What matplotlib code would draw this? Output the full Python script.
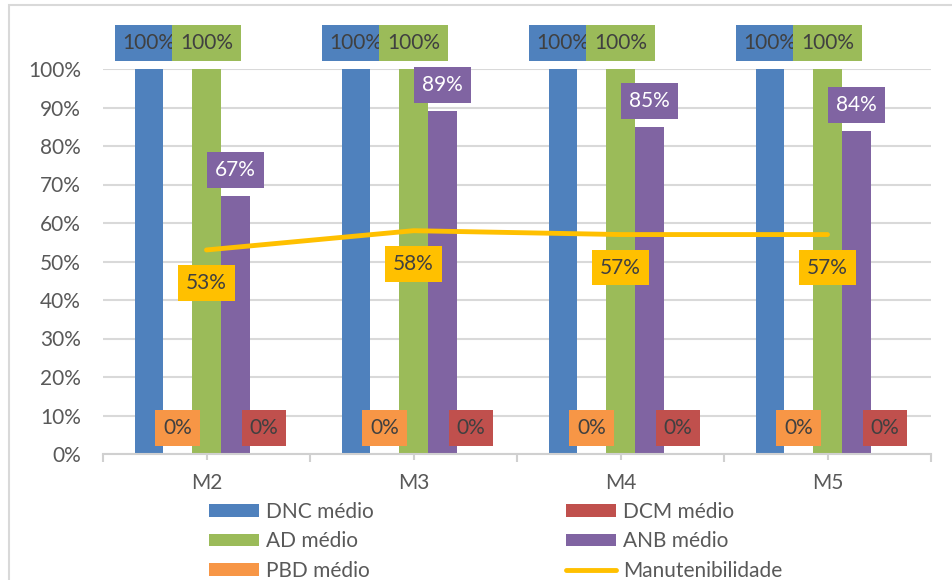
import matplotlib
matplotlib.use("Agg")
import matplotlib.pyplot as plt
from matplotlib.patches import Rectangle

plt.rcParams["font.family"] = ["Lato", "DejaVu Sans"]

categories = ["M2", "M3", "M4", "M5"]
dnc = [100, 100, 100, 100]
pbd = [0, 0, 0, 0]
ad = [100, 100, 100, 100]
anb = [67, 89, 85, 84]
dcm = [0, 0, 0, 0]
manut = [53, 58, 57, 57]

# bars in the order they sit inside each group
series = [
    ("DNC médio", dnc, "#4F81BD", "#404040"),
    ("PBD médio", pbd, "#F79646", "#404040"),
    ("AD médio", ad, "#9BBB59", "#404040"),
    ("ANB médio", anb, "#8064A2", "white"),
    ("DCM médio", dcm, "#C0504D", "#404040"),
]

fs = 15
grey = "#595959"
bw = 0.139

fig = plt.figure(figsize=(9.52, 5.8), dpi=100)
ax = fig.add_axes([103 / 952, 1 - 454 / 580, 828 / 952, 385 / 580])

x = list(range(len(categories)))
handles = {}
for k, (name, vals, col, tcol) in enumerate(series):
    off = (k - 2) * bw
    xs = [i + off for i in x]
    b = ax.bar(xs, vals, width=bw, color=col, zorder=2, label=name)
    handles[name] = b
    for xi, v in zip(xs, vals):
        ax.annotate(f"{v}%", (xi, v), xytext=(0, 26), textcoords="offset pixels",
                    ha="center", va="center", fontsize=fs, color=tcol, zorder=5,
                    annotation_clip=False,
                    bbox=dict(boxstyle="square,pad=0.38", fc=col, ec="none"))

ln, = ax.plot(x, manut, color="#FFC000", lw=3.5, solid_capstyle="round", zorder=3,
              label="Manutenibilidade")
for xi, v in zip(x, manut):
    ax.annotate(f"{v}%", (xi, v), xytext=(0, -33), textcoords="offset pixels",
                ha="center", va="center", fontsize=fs, color="#404040", zorder=6,
                annotation_clip=False,
                bbox=dict(boxstyle="square,pad=0.38", fc="#FFC000", ec="none"))

ax.set_xlim(-0.5, len(categories) - 0.5)
ax.set_ylim(0, 100)
ax.set_yticks(range(0, 101, 10))
ax.set_yticklabels([f"{t}%" for t in range(0, 101, 10)])
ax.set_xticks(x)
ax.set_xticklabels(categories)
ax.set_xticks([i - 0.5 for i in range(len(categories) + 1)], minor=True)

ax.grid(axis="y", color="#D9D9D9", lw=1.5, zorder=0)
ax.set_axisbelow(True)
for s in ["top", "right", "left"]:
    ax.spines[s].set_visible(False)
ax.spines["bottom"].set_color("#D0D0D0")
ax.spines["bottom"].set_linewidth(1.5)
ax.tick_params(axis="y", length=0, pad=16, labelsize=fs, labelcolor=grey)
ax.tick_params(axis="x", which="major", length=4, width=1.5, color="#D0D0D0",
               pad=10, labelsize=fs, labelcolor=grey)
ax.tick_params(axis="x", which="minor", length=6, width=1.5, color="#D0D0D0")

order = ["DNC médio", "AD médio", "PBD médio", "DCM médio", "ANB médio"]
hs = [handles[n] for n in order] + [ln]
labs = order + ["Manutenibilidade"]
fig.legend(hs, labs, ncol=2, loc="upper left", bbox_to_anchor=(209 / 952, 1 - 502 / 580),
           frameon=False, fontsize=fs, labelcolor=grey, handlelength=2.4,
           handleheight=0.55, handletextpad=0.35, labelspacing=0.45, columnspacing=9.2,
           borderpad=0, borderaxespad=0)

fig.add_artist(Rectangle((8.5 / 952, -0.1), 2, 1.1 - 5.5 / 580, transform=fig.transFigure,
                         fill=False, ec="#D9D9D9", lw=1.5))

fig.savefig("out.png", dpi=100)
